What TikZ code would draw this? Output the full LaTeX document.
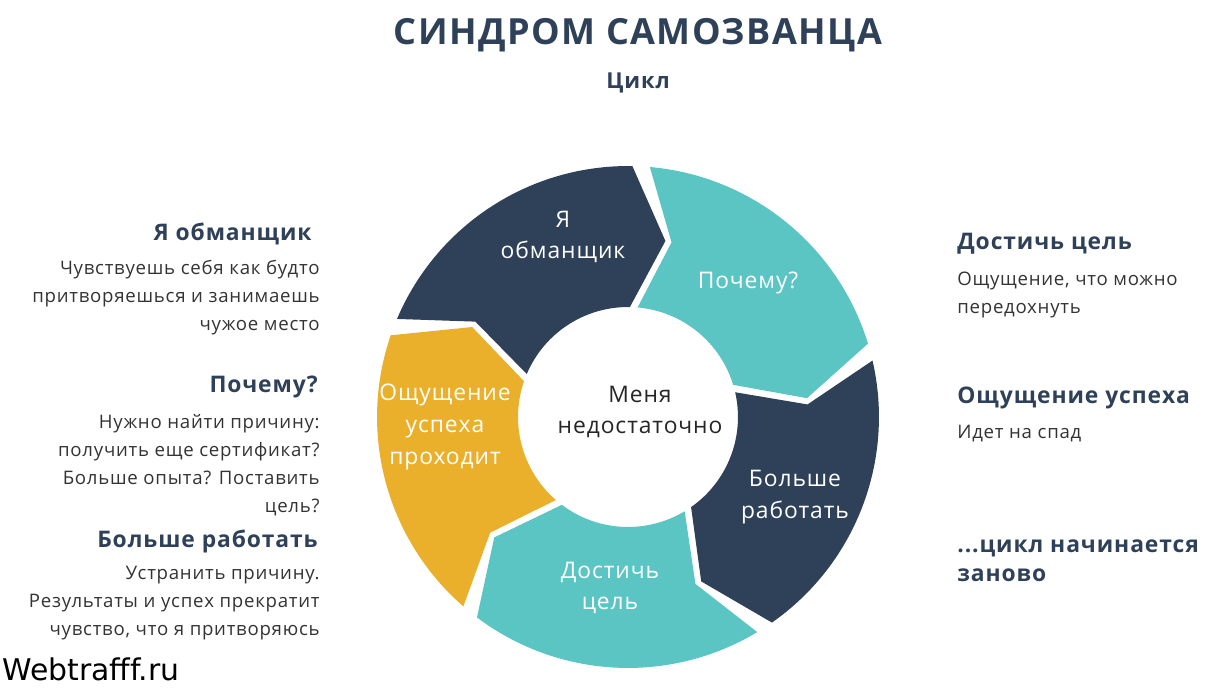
\documentclass[tikz,border=0pt]{standalone}
\usepackage{fontspec}
\setmainfont{Open Sans}
\newfontfamily\widefont[LetterSpace=4]{Open Sans}
\newfontfamily\markfont{DejaVu Sans}
\usetikzlibrary{positioning}
\definecolor{navy}{RGB}{46,65,88}
\definecolor{teal}{RGB}{91,197,196}
\definecolor{gold}{RGB}{235,176,43}
\definecolor{bodygray}{RGB}{51,51,51}
\tikzset{
  heading/.style={font=\widefont\bfseries\fontsize{13}{15}\selectfont, text=navy, inner sep=0pt},
  bodytext/.style={font=\widefont\fontsize{10.6}{15.9}\selectfont, text=bodygray, inner sep=0pt},
  segtext/.style={font=\widefont\fontsize{13}{18}\selectfont, text=white, align=center},
}
% one chevron segment of the ring: start angle, end angle, colour
\newcommand{\ringseg}[3]{%
  \fill[#3] (#1-2:5.02cm) arc[start angle=#1-2, end angle=#2+2, radius=5.02cm]
    -- (#2-9:3.6cm) -- (#2+2:2.2cm)
    arc[start angle=#2+2, end angle=#1-2, radius=2.2cm]
    -- (#1-11:3.6cm) -- cycle;}
\begin{document}
\begin{tikzpicture}[x=0.02cm,y=0.02cm]
  \useasboundingbox (0,0) rectangle (1211,687);

  \node[font=\widefont\bfseries\fontsize{20.5}{24}\selectfont, text=navy] (title) at (638,652) {СИНДРОМ САМОЗВАНЦА};
  \node[font=\widefont\bfseries\fontsize{12.5}{15}\selectfont, text=navy] (sub) at (638,604) {Цикл};

  \begin{scope}[shift={(628,270)}]
    \ringseg{159}{87}{navy}
    \ringseg{87}{15}{teal}
    \ringseg{15}{-57}{navy}
    \ringseg{-57}{-129}{teal}
    \ringseg{-129}{-201}{gold}
  \end{scope}

  \node[segtext] (s1) at (563,450) {Я\\обманщик};
  \node[segtext] (s2) at (748,404) {Почему?};
  \node[segtext] (s3) at (795,190) {Больше\\работать};
  \node[segtext] (s4) at (610,99) {Достичь\\цель};
  \node[segtext] (s5) at (445,260) {Ощущение\\успеха\\проходит};
  \node[font=\widefont\fontsize{13}{18}\selectfont, text=black!85, align=center] (core) at (640,275) {Меня\\недостаточно};

  % left column
  \node[heading, anchor=east] (h1) at (312,453) {Я обманщик};
  \node[bodytext, align=right, anchor=north east] (b1) at (320,427) {Чувствуешь себя как будто\\притворяешься и занимаешь\\чужое место};
  \node[heading, anchor=east] (h2) at (318,300) {Почему?};
  \node[bodytext, align=right, anchor=north east] (b2) at (320,273) {Нужно найти причину:\\получить еще сертификат?\\Больше опыта? Поставить\\цель?};
  \node[heading, anchor=east] (h3) at (318,146) {Больше работать};
  \node[bodytext, align=right, anchor=north east] (b3) at (320,121) {Устранить причину.\\Результаты и успех прекратит\\чувство, что я притворяюсь};

  % right column
  \node[heading, anchor=west] (h4) at (957,443) {Достичь цель};
  \node[bodytext, align=left, anchor=north west] (b4) at (957,415) {Ощущение, что можно\\передохнуть};
  \node[heading, anchor=west] (h5) at (957,289) {Ощущение успеха};
  \node[bodytext, align=left, anchor=north west] (b5) at (957,262) {Идет на спад};
  \node[heading, align=left, anchor=north west, font=\widefont\bfseries\fontsize{13}{16.5}\selectfont] (h6) at (957,148) {...цикл начинается\\заново};

  \node[font=\markfont\fontsize{17}{19}\selectfont, anchor=south west, inner sep=0pt] (mark) at (2,6) {Webtrafff.ru};
\end{tikzpicture}
\end{document}
